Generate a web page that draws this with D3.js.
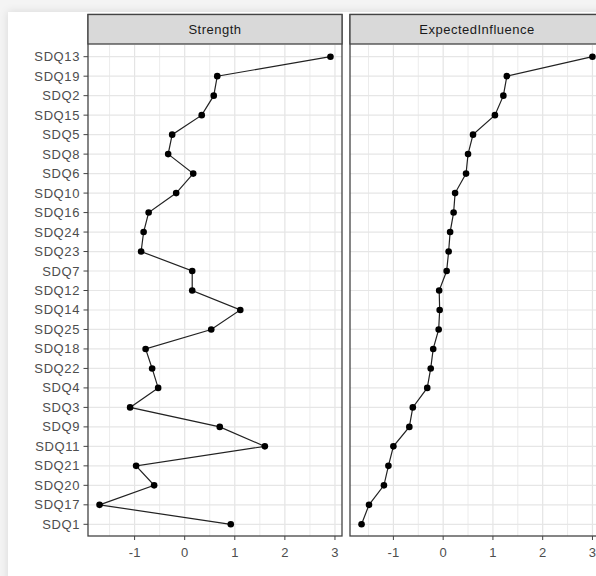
<!DOCTYPE html>
<html>
<head>
<meta charset="utf-8">
<script src="https://cdn.jsdelivr.net/npm/d3@7"></script>
<style>
  body { margin: 0; background: #f0f0f0; }
  svg { display: block; font-family: "Liberation Sans", Arial, sans-serif; }
</style>
</head>
<body>
<script>
// nodes, top to bottom as in the plot
const items = [
  "SDQ13", "SDQ19", "SDQ2", "SDQ15", "SDQ5", "SDQ8", "SDQ6", "SDQ10",
  "SDQ16", "SDQ24", "SDQ23", "SDQ7", "SDQ12", "SDQ14", "SDQ25", "SDQ18",
  "SDQ22", "SDQ4", "SDQ3", "SDQ9", "SDQ11", "SDQ21", "SDQ20", "SDQ17", "SDQ1"
];

const strength = [
  2.91, 0.65, 0.58, 0.34, -0.25, -0.33, 0.17, -0.17,
  -0.72, -0.82, -0.87, 0.15, 0.15, 1.11, 0.53, -0.78,
  -0.65, -0.53, -1.09, 0.70, 1.60, -0.97, -0.61, -1.70, 0.92
];

const expectedInfluence = [
  3.00, 1.28, 1.21, 1.04, 0.60, 0.50, 0.46, 0.24,
  0.21, 0.14, 0.11, 0.07, -0.08, -0.07, -0.09, -0.20,
  -0.25, -0.32, -0.61, -0.68, -1.00, -1.10, -1.19, -1.49, -1.64
];

const measures = ["Strength", "ExpectedInfluence"];
const series = [strength, expectedInfluence];

const width = 596,
  height = 576;

const panelW = 254,
  panelTop = 45,
  panelBottom = 536,
  stripTop = 14.5,
  panelLeft = [88, 350];

const svg = d3
  .select("body")
  .append("svg")
  .attr("width", width)
  .attr("height", height);

// screenshot shadow round the white page
const defs = svg.append("defs");
defs
  .append("filter")
  .attr("id", "shadow")
  .attr("x", "-5%")
  .attr("y", "-5%")
  .attr("width", "110%")
  .attr("height", "110%")
  .append("feDropShadow")
  .attr("dx", 0)
  .attr("dy", 0)
  .attr("stdDeviation", 4)
  .attr("flood-color", "#000")
  .attr("flood-opacity", 0.12);

svg
  .append("rect")
  .attr("width", width)
  .attr("height", height)
  .attr("fill", "#f4f4f4");

svg
  .append("rect")
  .attr("x", 8)
  .attr("y", 12)
  .attr("width", width + 20)
  .attr("height", height + 20)
  .attr("fill", "#fff")
  .attr("filter", "url(#shadow)");

const y = d3
  .scalePoint()
  .domain(items)
  .range([panelTop, panelBottom])
  .padding(0.6);

const fontSize = "13px",
  textColor = "#4d4d4d",
  borderColor = "#444";

measures.forEach((name, p) => {
  const values = series[p];
  const x0 = panelLeft[p],
    x1 = x0 + panelW;

  // ggplot style 5% expansion, free x per facet
  const [lo, hi] = d3.extent(values);
  const pad = (hi - lo) * 0.05;
  const x = d3
    .scaleLinear()
    .domain([lo - pad, hi + pad])
    .range([x0, x1]);

  const major = x.ticks(5);
  const step = major[1] - major[0];
  const minor = d3
    .range(major[0] - step / 2, hi + pad, step)
    .filter(v => v > lo - pad && v < hi + pad);

  const g = svg.append("g");

  // grid
  g.selectAll(".minor")
    .data(minor)
    .enter()
    .append("line")
    .attr("x1", d => x(d))
    .attr("x2", d => x(d))
    .attr("y1", panelTop)
    .attr("y2", panelBottom)
    .attr("stroke", "#ececec")
    .attr("stroke-width", 1);

  g.selectAll(".majorx")
    .data(major)
    .enter()
    .append("line")
    .attr("x1", d => x(d))
    .attr("x2", d => x(d))
    .attr("y1", panelTop)
    .attr("y2", panelBottom)
    .attr("stroke", "#e4e4e4")
    .attr("stroke-width", 1.2);

  g.selectAll(".majory")
    .data(items)
    .enter()
    .append("line")
    .attr("x1", x0)
    .attr("x2", x1)
    .attr("y1", d => y(d))
    .attr("y2", d => y(d))
    .attr("stroke", "#e6e6e6")
    .attr("stroke-width", 1.2);

  // line + points
  const line = d3
    .line()
    .x(d => x(d))
    .y((d, i) => y(items[i]));

  g.append("path")
    .datum(values)
    .attr("d", line)
    .attr("fill", "none")
    .attr("stroke", "#222")
    .attr("stroke-width", 1.2);

  g.selectAll("circle")
    .data(values)
    .enter()
    .append("circle")
    .attr("cx", d => x(d))
    .attr("cy", (d, i) => y(items[i]))
    .attr("r", 3.3)
    .attr("fill", "#000");

  // panel border
  g.append("rect")
    .attr("x", x0)
    .attr("y", stripTop)
    .attr("width", panelW)
    .attr("height", panelBottom - stripTop)
    .attr("fill", "none")
    .attr("stroke", borderColor)
    .attr("stroke-width", 1.3);

  // strip
  g.append("rect")
    .attr("x", x0)
    .attr("y", stripTop)
    .attr("width", panelW)
    .attr("height", panelTop - 1 - stripTop)
    .attr("fill", "#d9d9d9")
    .attr("stroke", borderColor)
    .attr("stroke-width", 1.3);

  g.append("text")
    .attr("x", (x0 + x1) / 2)
    .attr("y", (stripTop + panelTop) / 2 + 4.5)
    .attr("text-anchor", "middle")
    .attr("font-size", fontSize)
    .attr("letter-spacing", "0.5px")
    .attr("fill", "#1a1a1a")
    .text(name);

  // x axis
  const xAxis = g.append("g").attr("transform", `translate(0,${panelBottom})`);

  xAxis
    .selectAll("line")
    .data(major)
    .enter()
    .append("line")
    .attr("x1", d => x(d))
    .attr("x2", d => x(d))
    .attr("y1", 0)
    .attr("y2", 4)
    .attr("stroke", borderColor);

  xAxis
    .selectAll("text")
    .data(major)
    .enter()
    .append("text")
    .attr("x", d => x(d))
    .attr("y", 21)
    .attr("text-anchor", "middle")
    .attr("font-size", fontSize)
    .attr("fill", textColor)
    .text(d => d3.format("d")(d).replace("−", "-"));

  // y axis only on the first panel
  if (p === 0) {
    const yAxis = g.append("g");

    yAxis
      .selectAll("line")
      .data(items)
      .enter()
      .append("line")
      .attr("x1", x0 - 4.5)
      .attr("x2", x0)
      .attr("y1", d => y(d))
      .attr("y2", d => y(d))
      .attr("stroke", borderColor);

    yAxis
      .selectAll("text")
      .data(items)
      .enter()
      .append("text")
      .attr("x", x0 - 8)
      .attr("y", d => y(d) + 4.5)
      .attr("text-anchor", "end")
      .attr("font-size", fontSize)
      .attr("letter-spacing", "0.6px")
      .attr("fill", textColor)
      .text(d => d);
  }
});
</script>
</body>
</html>
